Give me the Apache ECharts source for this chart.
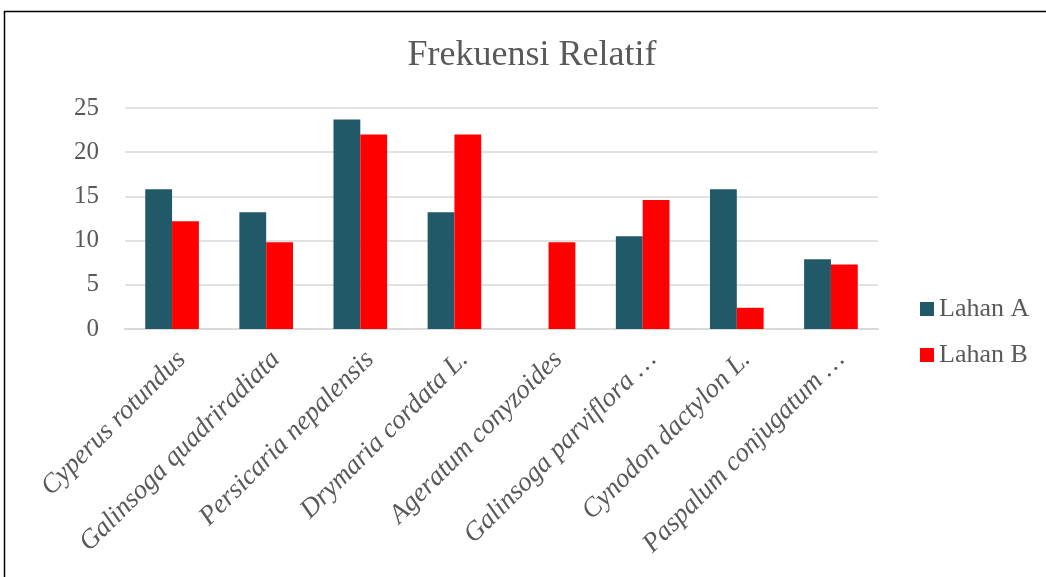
<!DOCTYPE html>
<html>
<head>
<meta charset="utf-8">
<script src="https://cdn.jsdelivr.net/npm/echarts@6/dist/echarts.min.js"></script>
<style>
html,body{margin:0;padding:0;background:#fff;}
#c{width:1046px;height:577px;}
</style>
</head>
<body>
<div id="c"></div>
<script>
const categories = ["Cyperus rotundus","Galinsoga quadriradiata","Persicaria nepalensis","Drymaria cordata L.","Ageratum conyzoides","Galinsoga parviflora …","Cynodon dactylon L.","Paspalum conjugatum …"];
const lahanA = [15.8, 13.2, 23.7, 13.2, 0, 10.5, 15.8, 7.9];
const lahanB = [12.2, 9.8, 22.0, 22.0, 9.8, 14.6, 2.4, 7.3];
const yTicks = [0, 5, 10, 15, 20, 25];

const FONT = '"Liberation Serif", "Times New Roman", serif';
const chart = echarts.init(document.getElementById('c'));
chart.setOption({
  animation: false,
  backgroundColor: '#fff',
  textStyle: { fontFamily: FONT },
  title: {
    text: 'Frekuensi Relatif',
    left: 527, top: 33,
    textAlign: 'center',
    textStyle: { fontFamily: FONT, fontSize: 36, fontWeight: 'normal', color: '#595959' }
  },
  legend: {
    orient: 'vertical',
    left: 915, top: 291,
    itemWidth: 14, itemHeight: 14, itemGap: 20,
    icon: 'rect',
    textStyle: { fontFamily: FONT, fontSize: 26, color: '#595959' },
    data: ['Lahan A', 'Lahan B']
  },
  grid: { left: 125, right: 168, top: 108, bottom: 248, containLabel: false },
  xAxis: {
    type: 'category',
    data: categories,
    axisLine: { show: true, lineStyle: { color: '#d9d9d9', width: 2 } },
    axisTick: { show: false },
    axisLabel: {
      interval: 0, rotate: 45, margin: 17, verticalAlign: 'top',
      fontFamily: FONT, fontSize: 27, fontStyle: 'italic', color: '#595959'
    }
  },
  yAxis: {
    type: 'value',
    min: yTicks[0], max: yTicks[yTicks.length-1], interval: 5,
    axisLine: { show: false },
    axisTick: { show: false },
    splitLine: { lineStyle: { color: '#d9d9d9', width: 1.5 } },
    axisLabel: { margin: 26, fontFamily: FONT, fontSize: 25, color: '#595959' }
  },
  series: [
    { name: 'Lahan A', type: 'bar', data: lahanA, barGap: '0%', barCategoryGap: '43%',
      itemStyle: { color: '#225968' } },
    { name: 'Lahan B', type: 'bar', data: lahanB, barGap: '0%', barCategoryGap: '43%',
      itemStyle: { color: '#ff0000' } }
  ],
  graphic: [
    { type: 'polyline', shape: { points: [[4.5, 577], [4.5, 11.5], [1046, 11.5]] },
      style: { stroke: '#000', lineWidth: 1.5, fill: null } }
  ]
});
</script>
</body>
</html>
